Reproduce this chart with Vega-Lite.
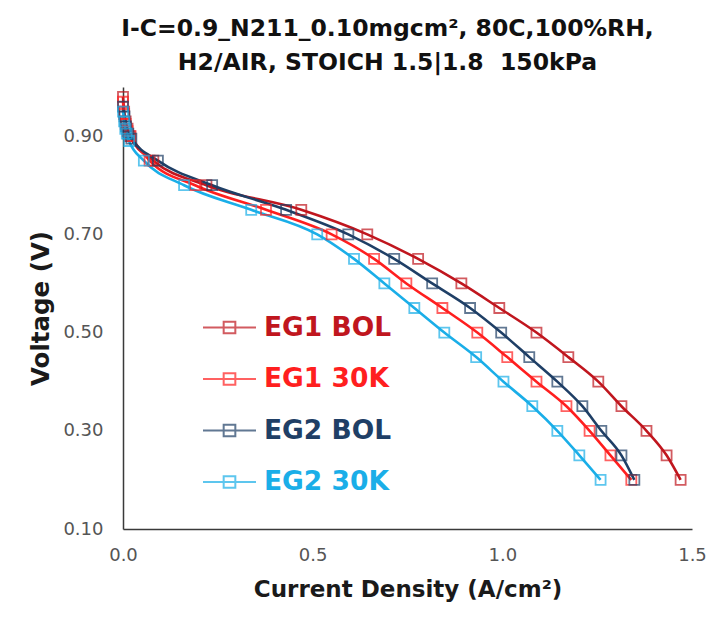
{
  "$schema": "https://vega.github.io/schema/vega-lite/v6.json",
  "width": 569,
  "height": 442,
  "autosize": {"type": "none"},
  "padding": {"left": 123, "top": 87, "right": 22, "bottom": 88},
  "background": "white",
  "title": {
    "text": ["I-C=0.9_N211_0.10mgcm², 80C,100%RH,", "H2/AIR, STOICH 1.5|1.8\u00a0 150kPa"],
    "font": "DejaVu Sans",
    "fontSize": 23.5,
    "fontWeight": "bold",
    "color": "#111111",
    "lineHeight": 34,
    "anchor": "middle",
    "dx": -20,
    "offset": 13
  },
  "config": {
    "view": {"stroke": null},
    "axis": {"grid": false, "ticks": false, "domainColor": "#3a3a3a", "domainWidth": 1.5, "labelFlush": false,
      "labelFont": "DejaVu Sans", "labelFontSize": 18, "labelColor": "#555555",
      "titleFont": "DejaVu Sans", "titleFontSize": 23, "titleFontWeight": "bold", "titleColor": "#1a1a1a"}
  },
  "data": {"values": [
    {"series": "EG1 BOL", "i": 0.000, "v": 0.980},
    {"series": "EG1 BOL", "i": 0.003, "v": 0.950},
    {"series": "EG1 BOL", "i": 0.007, "v": 0.930},
    {"series": "EG1 BOL", "i": 0.012, "v": 0.915},
    {"series": "EG1 BOL", "i": 0.018, "v": 0.900},
    {"series": "EG1 BOL", "i": 0.080, "v": 0.850},
    {"series": "EG1 BOL", "i": 0.220, "v": 0.800},
    {"series": "EG1 BOL", "i": 0.470, "v": 0.750},
    {"series": "EG1 BOL", "i": 0.644, "v": 0.700},
    {"series": "EG1 BOL", "i": 0.778, "v": 0.650},
    {"series": "EG1 BOL", "i": 0.892, "v": 0.600},
    {"series": "EG1 BOL", "i": 0.992, "v": 0.550},
    {"series": "EG1 BOL", "i": 1.090, "v": 0.500},
    {"series": "EG1 BOL", "i": 1.174, "v": 0.450},
    {"series": "EG1 BOL", "i": 1.253, "v": 0.400},
    {"series": "EG1 BOL", "i": 1.314, "v": 0.350},
    {"series": "EG1 BOL", "i": 1.380, "v": 0.300},
    {"series": "EG1 BOL", "i": 1.433, "v": 0.250},
    {"series": "EG1 BOL", "i": 1.470, "v": 0.200},
    {"series": "EG1 30K", "i": 0.000, "v": 0.970},
    {"series": "EG1 30K", "i": 0.003, "v": 0.945},
    {"series": "EG1 30K", "i": 0.007, "v": 0.925},
    {"series": "EG1 30K", "i": 0.012, "v": 0.910},
    {"series": "EG1 30K", "i": 0.020, "v": 0.900},
    {"series": "EG1 30K", "i": 0.070, "v": 0.850},
    {"series": "EG1 30K", "i": 0.190, "v": 0.800},
    {"series": "EG1 30K", "i": 0.377, "v": 0.750},
    {"series": "EG1 30K", "i": 0.550, "v": 0.700},
    {"series": "EG1 30K", "i": 0.662, "v": 0.650},
    {"series": "EG1 30K", "i": 0.747, "v": 0.600},
    {"series": "EG1 30K", "i": 0.842, "v": 0.550},
    {"series": "EG1 30K", "i": 0.934, "v": 0.500},
    {"series": "EG1 30K", "i": 1.013, "v": 0.450},
    {"series": "EG1 30K", "i": 1.090, "v": 0.400},
    {"series": "EG1 30K", "i": 1.169, "v": 0.350},
    {"series": "EG1 30K", "i": 1.230, "v": 0.300},
    {"series": "EG1 30K", "i": 1.285, "v": 0.250},
    {"series": "EG1 30K", "i": 1.340, "v": 0.200},
    {"series": "EG2 BOL", "i": 0.000, "v": 0.960},
    {"series": "EG2 BOL", "i": 0.004, "v": 0.940},
    {"series": "EG2 BOL", "i": 0.008, "v": 0.920},
    {"series": "EG2 BOL", "i": 0.014, "v": 0.905},
    {"series": "EG2 BOL", "i": 0.022, "v": 0.895},
    {"series": "EG2 BOL", "i": 0.092, "v": 0.850},
    {"series": "EG2 BOL", "i": 0.235, "v": 0.800},
    {"series": "EG2 BOL", "i": 0.430, "v": 0.750},
    {"series": "EG2 BOL", "i": 0.594, "v": 0.700},
    {"series": "EG2 BOL", "i": 0.715, "v": 0.650},
    {"series": "EG2 BOL", "i": 0.815, "v": 0.600},
    {"series": "EG2 BOL", "i": 0.915, "v": 0.550},
    {"series": "EG2 BOL", "i": 0.997, "v": 0.500},
    {"series": "EG2 BOL", "i": 1.071, "v": 0.450},
    {"series": "EG2 BOL", "i": 1.145, "v": 0.400},
    {"series": "EG2 BOL", "i": 1.211, "v": 0.350},
    {"series": "EG2 BOL", "i": 1.261, "v": 0.300},
    {"series": "EG2 BOL", "i": 1.314, "v": 0.250},
    {"series": "EG2 BOL", "i": 1.348, "v": 0.200},
    {"series": "EG2 30K", "i": 0.000, "v": 0.950},
    {"series": "EG2 30K", "i": 0.003, "v": 0.930},
    {"series": "EG2 30K", "i": 0.006, "v": 0.915},
    {"series": "EG2 30K", "i": 0.010, "v": 0.905},
    {"series": "EG2 30K", "i": 0.016, "v": 0.890},
    {"series": "EG2 30K", "i": 0.055, "v": 0.850},
    {"series": "EG2 30K", "i": 0.161, "v": 0.800},
    {"series": "EG2 30K", "i": 0.338, "v": 0.750},
    {"series": "EG2 30K", "i": 0.512, "v": 0.700},
    {"series": "EG2 30K", "i": 0.609, "v": 0.650},
    {"series": "EG2 30K", "i": 0.689, "v": 0.600},
    {"series": "EG2 30K", "i": 0.768, "v": 0.550},
    {"series": "EG2 30K", "i": 0.847, "v": 0.500},
    {"series": "EG2 30K", "i": 0.931, "v": 0.450},
    {"series": "EG2 30K", "i": 1.003, "v": 0.400},
    {"series": "EG2 30K", "i": 1.079, "v": 0.350},
    {"series": "EG2 30K", "i": 1.145, "v": 0.300},
    {"series": "EG2 30K", "i": 1.203, "v": 0.250},
    {"series": "EG2 30K", "i": 1.259, "v": 0.200}
  ]},
  "encoding": {
    "x": {"field": "i", "type": "quantitative",
      "scale": {"domain": [0, 1.5], "nice": false, "zero": false},
      "axis": {"values": [0, 0.5, 1.0, 1.5], "format": ".1f", "labelPadding": 17, "titlePadding": 14,
        "title": "Current Density (A/cm²)"}},
    "y": {"field": "v", "type": "quantitative",
      "scale": {"domain": [0.1, 1.0], "nice": false, "zero": false},
      "axis": {"values": [0.1, 0.3, 0.5, 0.7, 0.9], "format": ".2f", "labelPadding": 20, "titlePadding": 9,
        "title": "Voltage (V)", "titleFontSize": 24.5}},
    "color": {"field": "series", "type": "nominal",
      "scale": {"domain": ["EG1 BOL", "EG1 30K", "EG2 BOL", "EG2 30K"],
                "range": ["#C0161E", "#FF1F1F", "#1F3F66", "#1AAEE8"]},
      "legend": {
        "orient": "none", "legendX": 79, "legendY": 213, "title": null, "padding": 0,
        "symbolType": "M-1,0H1M-0.22,-0.22H0.22V0.22H-0.22Z",
        "symbolSize": 2809, "symbolStrokeWidth": 2, "symbolFillColor": "transparent",
        "labelFont": "DejaVu Sans", "labelFontSize": 26.5, "labelFontWeight": "bold",
        "labelOffset": 7, "rowPadding": 10.5, "labelLimit": 300,
        "labelColor": {"expr": "datum.value == 'EG1 BOL' ? '#C0161E' : datum.value == 'EG1 30K' ? '#FF1F1F' : datum.value == 'EG2 BOL' ? '#1F3F66' : '#1AAEE8'"}
      }}
  },
  "layer": [
    {"mark": {"type": "line", "interpolate": "monotone", "strokeWidth": 2.6}},
    {"mark": {"type": "point", "shape": "square", "filled": false, "size": 100, "strokeWidth": 1.8}}
  ]
}
